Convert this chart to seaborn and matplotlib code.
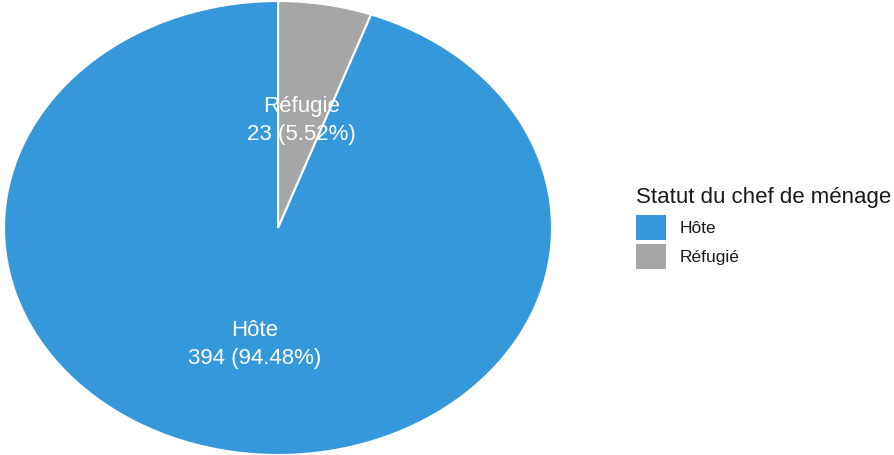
import matplotlib
matplotlib.use("Agg")
import matplotlib.pyplot as plt
from matplotlib.patches import Rectangle
from matplotlib.transforms import offset_copy
import seaborn as sns

# Household head status counts
categories = ["Hôte", "Réfugié"]
slice_names = ["Hôte", "Réfugie"]
counts = [394, 23]
colors = ["#3498db", "#a6a6a6"]
legend_title = "Statut du chef de ménage"

sns.set_theme(style="white")
plt.rcParams["font.family"] = ["Liberation Sans", "DejaVu Sans"]
palette = sns.color_palette(colors)

fig = plt.figure(figsize=(8.94, 4.56), dpi=100)
ax = fig.add_axes([0.0045, 0.0, 0.613, 454 / 456])

total = sum(counts)
labels = [f"{n}\n{c} ({c / total * 100:.2f}%)" for n, c in zip(slice_names, counts)]

# draw clockwise from 12 o'clock, smallest group first
order = [1, 0]
wedges, texts = ax.pie(
    [counts[i] for i in order],
    labels=[labels[i] for i in order],
    colors=[palette[i] for i in order],
    startangle=90,
    counterclock=False,
    labeldistance=0.5,
    radius=1.0,
    wedgeprops=dict(edgecolor="white", linewidth=1.5),
    textprops=dict(color="white", fontsize=16, ha="center", va="center",
                   linespacing=1.45),
)
# nudge the two-line slice labels slightly downward
for t in texts:
    t.set_transform(offset_copy(t.get_transform(), fig=fig, y=-3.5, units="dots"))

ax.set_aspect("auto")
ax.set_xlim(-1, 1)
ax.set_ylim(-1.0, 1.0)
ax.axis("off")

# legend
W, H = 894, 456
fig.text(636 / W, 1 - 197 / H, legend_title, fontsize=16, color="#1a1a1a",
         ha="left", va="center")
key_tops = [216, 245]
for i, cat in enumerate(categories):
    fig.add_artist(Rectangle((636 / W, 1 - (key_tops[i] + 25) / H), 30 / W, 25 / H,
                             transform=fig.transFigure, facecolor=palette[i],
                             edgecolor="none"))
    fig.text(680 / W, 1 - (key_tops[i] + 12.5) / H, cat, fontsize=12.5,
             color="#1a1a1a", ha="left", va="center")

fig.savefig("out.png", dpi=100, facecolor="white")
